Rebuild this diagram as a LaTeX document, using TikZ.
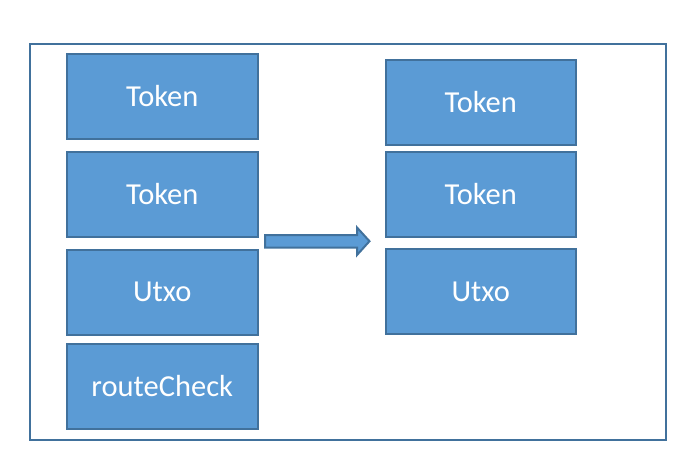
\documentclass[tikz,border=0pt]{standalone}
\usepackage{fontspec}
\setmainfont{Carlito}
\definecolor{boxfill}{HTML}{5B9BD5}
\definecolor{boxline}{HTML}{41719C}
\begin{document}
\begin{tikzpicture}[x=1pt,y=-1pt,
  blk/.style={draw=boxline, fill=boxfill, line width=2pt, minimum width=190.5pt, minimum height=85pt, inner sep=0pt, text=white, font=\fontsize{30.5}{36}\selectfont}]
\useasboundingbox (0,0) rectangle (695,467);
\draw[boxline, line width=2pt] (30.3,43.7) rectangle (665.7,440);
\node[blk] (l1) at (162.25,96) {Token};
\node[blk] (l2) at (162.25,194.5) {Token};
\node[blk] (l3) at (162.25,292) {Utxo};
\node[blk] (l4) at (162.25,386.5) {routeCheck};
\node[blk] (r1) at (480.75,102) {Token};
\node[blk] (r2) at (480.75,194.5) {Token};
\node[blk] (r3) at (480.75,291.5) {Utxo};
\draw[boxline, fill=boxfill, line width=2pt, line join=miter]
  (265,235) -- (357,235) -- (357,227.5) -- (369.5,241.2) -- (357,255) -- (357,247.5) -- (265,247.5) -- cycle;
\end{tikzpicture}
\end{document}
